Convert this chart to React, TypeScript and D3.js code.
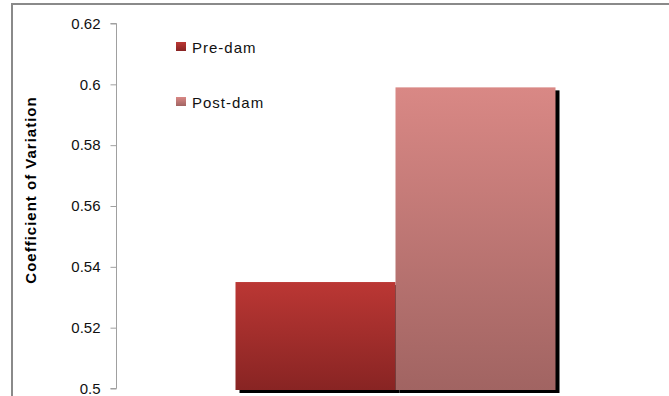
import { useEffect, useRef } from "react";
import * as d3 from "d3";

const series = ["Pre-dam", "Post-dam"];
const values = [0.535, 0.599];
const yTicks = [0.5, 0.52, 0.54, 0.56, 0.58, 0.6, 0.62];
const gradients = [
  ["#bb3734", "#882423"],
  ["#d98885", "#a16462"],
];

export default function App() {
  const svgRef = useRef<SVGSVGElement | null>(null);

  useEffect(() => {
    const svg = d3.select(svgRef.current);
    const width = 669;
    const height = 396;
    svg.selectAll("*").remove();
    svg.attr("width", width).attr("height", height);

    const font = "'Liberation Sans', Arial, sans-serif";

    const defs = svg.append("defs");
    series.forEach((s, i) => {
      const g = defs.append("linearGradient")
        .attr("id", `grad${i}`)
        .attr("x1", 0).attr("y1", 0).attr("x2", 0).attr("y2", 1);
      g.append("stop").attr("offset", "0%").attr("stop-color", gradients[i][0]);
      g.append("stop").attr("offset", "100%").attr("stop-color", gradients[i][1]);
    });

    // chart frame
    svg.append("rect")
      .attr("x", 12).attr("y", 4)
      .attr("width", 700).attr("height", 420)
      .attr("fill", "white")
      .attr("stroke", "#8a8a8a")
      .attr("stroke-width", 2);

    const y = d3.scaleLinear().domain([0.5, 0.62]).range([388.5, 23.5]);
    const x = d3.scaleBand<string>().domain(series).range([235.5, 555.5]).paddingInner(0);

    // bars with shadow
    const bottom = y(0.5) + 1.5;
    series.forEach((s, i) => {
      svg.append("rect")
        .attr("x", x(s)! + 4)
        .attr("y", y(values[i]) + 3)
        .attr("width", x.bandwidth())
        .attr("height", bottom - y(values[i]))
        .attr("fill", "black");
    });
    series.forEach((s, i) => {
      svg.append("rect")
        .attr("x", x(s)!)
        .attr("y", y(values[i]))
        .attr("width", x.bandwidth())
        .attr("height", bottom - y(values[i]))
        .attr("fill", `url(#grad${i})`);
    });

    // y axis
    const axis = svg.append("g")
      .attr("transform", "translate(116.5,0)")
      .call(d3.axisLeft(y).tickValues(yTicks).tickFormat((d) => String(+d)).tickSize(6).tickPadding(10));
    axis.select(".domain").attr("stroke", "#a0a0a0").attr("d", `M-6,${y(0.62)}H0V${y(0.5)}H-6`);
    axis.selectAll(".tick line").attr("stroke", "#a0a0a0");
    axis.selectAll(".tick text")
      .attr("font-family", font)
      .attr("font-size", 15)
      .attr("fill", "#111");

    svg.append("text")
      .attr("transform", "translate(36,190) rotate(-90)")
      .attr("text-anchor", "middle")
      .attr("font-family", font)
      .attr("font-weight", "bold")
      .attr("font-size", 15)
      .attr("letter-spacing", 1)
      .attr("fill", "#000")
      .text("Coefficient of Variation");

    // legend
    series.forEach((s, i) => {
      const row = svg.append("g").attr("transform", `translate(176,${42 + i * 55})`);
      row.append("rect")
        .attr("width", 10).attr("height", 9)
        .attr("fill", `url(#grad${i})`);
      row.append("text")
        .attr("x", 16).attr("y", 10.5)
        .attr("font-family", font)
        .attr("font-size", 15)
        .attr("letter-spacing", 1)
        .attr("fill", "#111")
        .text(s);
    });
  }, []);

  return (
    <svg ref={svgRef} style={{ position: "absolute", left: 0, top: 0 }} />
  );
}
